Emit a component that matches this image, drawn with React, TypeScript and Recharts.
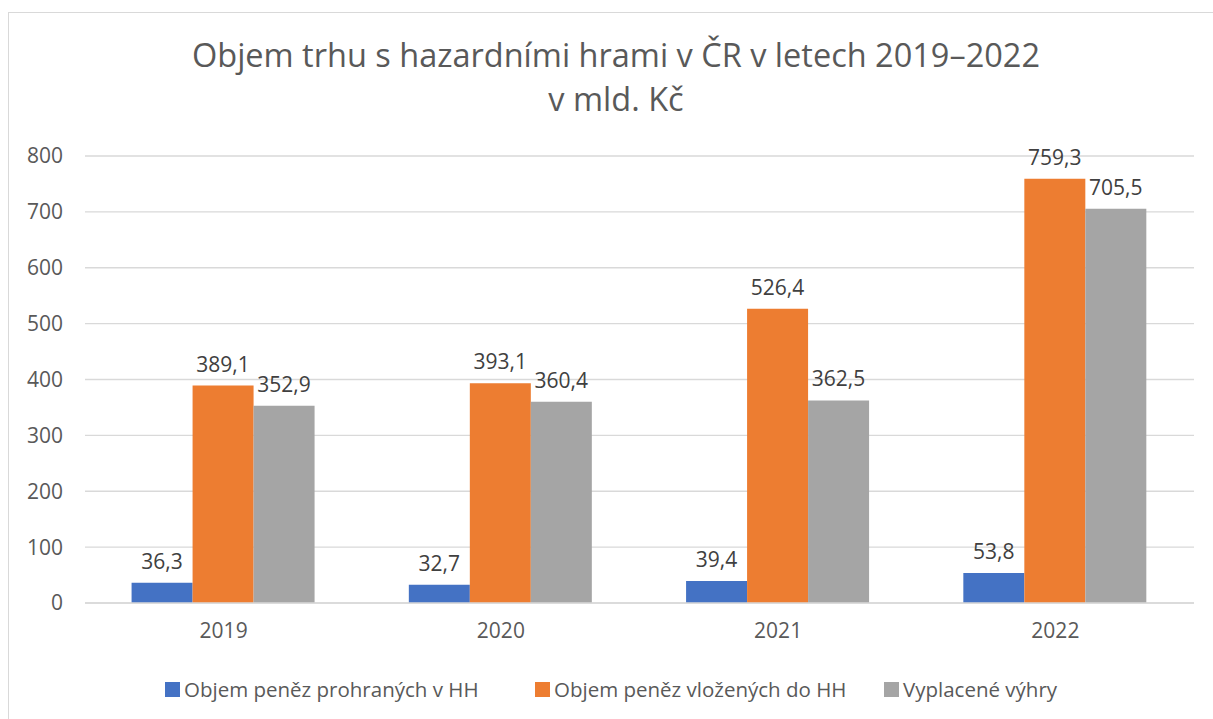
import React from "react";
import { BarChart, Bar, XAxis, YAxis, CartesianGrid, LabelList } from "recharts";

const categories = ["2019", "2020", "2021", "2022"];
const lostValues = [36.3, 32.7, 39.4, 53.8];
const depositedValues = [389.1, 393.1, 526.4, 759.3];
const paidValues = [352.9, 360.4, 362.5, 705.5];
const yTicks = [0, 100, 200, 300, 400, 500, 600, 700, 800];
const seriesNames = [
  "Objem peněz prohraných v HH",
  "Objem peněz vložených do HH",
  "Vyplacené výhry",
];
const seriesKeys = ["lost", "deposited", "paid"];
const seriesColors = ["#4472C4", "#ED7D31", "#A5A5A5"];
const titleLines = ["Objem trhu s hazardními hrami v ČR v letech 2019–2022", "v mld. Kč"];

const data = categories.map((c, i) => ({
  year: c,
  lost: lostValues[i],
  deposited: depositedValues[i],
  paid: paidValues[i],
}));

const FONT = "'Open Sans', sans-serif";
const fmt = (v: any) => String(v).replace(".", ",");
const legendLefts = [165, 535, 884];

export default function App() {
  return (
    <div style={{ position: "absolute", left: 0, top: 0, width: 1213, height: 719, background: "#fff", overflow: "hidden", fontFamily: FONT }}>
      <div style={{ position: "absolute", left: 8, top: 12, width: 1300, height: 800, borderLeft: "1px solid #d9d9d9", borderTop: "1px solid #d9d9d9" }} />
      <div style={{ position: "absolute", left: 0, top: 33, width: 1232, textAlign: "center", color: "#595959", fontSize: 32.5, lineHeight: "44px" }}>
        {titleLines.map((t) => (
          <div key={t}>{t}</div>
        ))}
      </div>
      <div style={{ position: "absolute", left: 0, top: 0 }}>
        <BarChart
          width={1213}
          height={719}
          data={data}
          margin={{ top: 156, right: 19, bottom: 86, left: 25 }}
          barCategoryGap="16.8%"
          barGap={0}
        >
          <CartesianGrid vertical={false} stroke="#d9d9d9" strokeWidth={1.4} />
          <XAxis
            dataKey="year"
            height={30}
            axisLine={{ stroke: "#d9d9d9", strokeWidth: 1.4 }}
            tickLine={false}
            tickSize={0}
            tickMargin={20}
            tick={{ fill: "#595959", fontSize: 21, fontFamily: FONT }}
          />
          <YAxis
            width={60}
            domain={[0, 800]}
            ticks={yTicks}
            axisLine={false}
            tickLine={false}
            tickSize={0}
            tickMargin={22}
            tick={{ fill: "#595959", fontSize: 21, fontFamily: FONT }}
          />
          {seriesKeys.map((k, i) => (
            <Bar key={k} dataKey={k} name={seriesNames[i]} fill={seriesColors[i]} isAnimationActive={false}>
              <LabelList dataKey={k} position="top" offset={14} formatter={fmt} fill="#404040" fontSize={21} fontFamily={FONT} />
            </Bar>
          ))}
        </BarChart>
      </div>
      {seriesNames.map((n, i) => (
        <div
          key={n}
          style={{ position: "absolute", left: legendLefts[i], top: 674, height: 30, display: "flex", alignItems: "center", color: "#595959", fontSize: 20.5, whiteSpace: "nowrap" }}
        >
          <span style={{ display: "inline-block", width: 15, height: 15, background: seriesColors[i], marginRight: 4 }} />
          <span>{n}</span>
        </div>
      ))}
    </div>
  );
}
